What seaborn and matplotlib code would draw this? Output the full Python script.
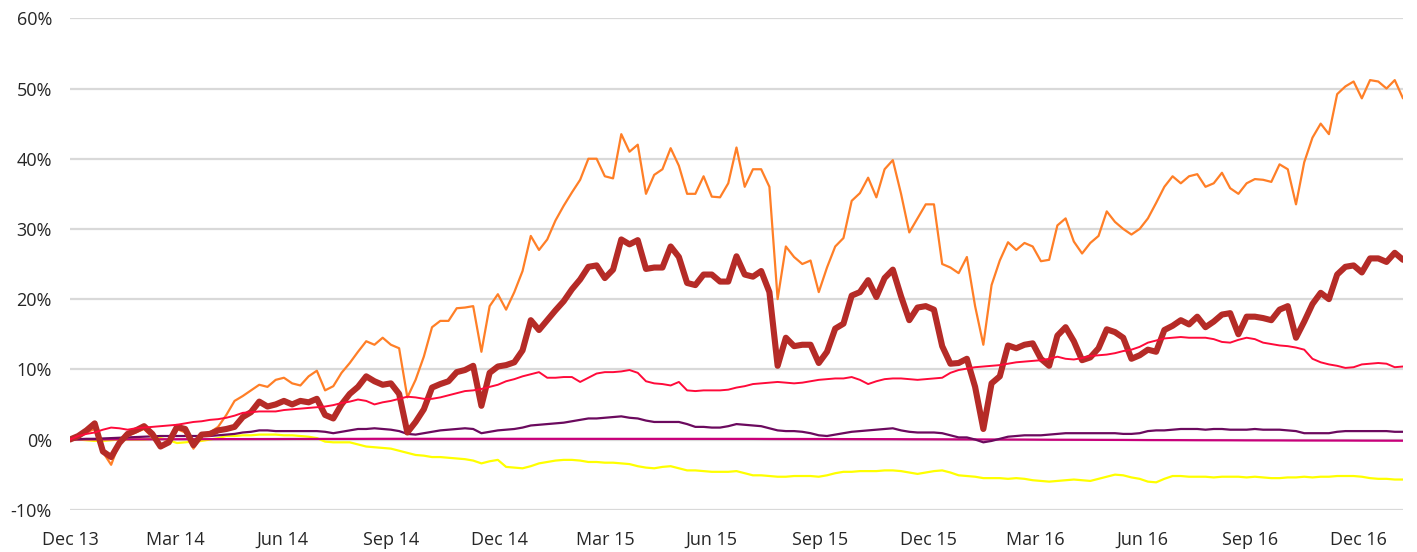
import pandas as pd
import matplotlib
matplotlib.use("Agg")
import matplotlib.pyplot as plt
from matplotlib.ticker import FuncFormatter
import seaborn as sns

# ---------------- data (weekly, cumulative return in %) ----------------
start_date = "2013-12-31"
n_weeks = 163

tick_dates = ["2013-12-31", "2014-03-31", "2014-06-30", "2014-09-30",
              "2014-12-31", "2015-03-31", "2015-06-30", "2015-09-30",
              "2015-12-31", "2016-03-31", "2016-06-30", "2016-09-30",
              "2016-12-31"]
tick_labels = ["Dec 13", "Mar 14", "Jun 14", "Sep 14", "Dec 14", "Mar 15",
               "Jun 15", "Sep 15", "Dec 15", "Mar 16", "Jun 16", "Sep 16",
               "Dec 16"]
y_ticks = [-10, 0, 10, 20, 30, 40, 50, 60]

orange = [
    0.0, 0.5, 1.0, 1.5, -1.8, -3.6, -0.5, 0.5, 1.0, 1.5,
    0.3, -1.0, -0.5, 1.5, 1.0, -1.3, 0.5, 1.0, 1.8, 3.5,
    5.5, 6.2, 7.0, 7.8, 7.5, 8.5, 8.8, 8.0, 7.7, 9.0,
    9.8, 7.0, 7.6, 9.5, 10.9, 12.5, 14.0, 13.5, 14.5, 13.5,
    13.0, 6.0, 8.5, 11.8, 16.0, 16.9, 16.9, 18.7, 18.8, 19.0,
    12.5, 19.0, 20.7, 18.5, 21.0, 24.0, 29.0, 27.0, 28.5, 31.2,
    33.3, 35.2, 37.0, 40.0, 40.0, 37.5, 37.2, 43.5, 41.0, 42.0,
    35.0, 37.7, 38.5, 41.5, 39.0, 35.0, 35.0, 37.5, 34.6, 34.5,
    36.5, 41.6, 36.0, 38.5, 38.5, 36.0, 20.0, 27.5, 26.0, 25.0,
    25.5, 21.0, 24.5, 27.5, 28.7, 34.0, 35.1, 37.3, 34.5, 38.5,
    39.8, 35.0, 29.5, 31.5, 33.5, 33.5, 25.0, 24.5, 23.7, 26.0,
    19.0, 13.5, 22.0, 25.5, 28.1, 27.0, 28.0, 27.5, 25.4, 25.6,
    30.5, 31.5, 28.2, 26.5, 28.0, 29.0, 32.5, 31.0, 30.0, 29.2,
    30.0, 31.5, 33.7, 36.0, 37.5, 36.5, 37.5, 37.8, 36.0, 36.5,
    38.0, 35.8, 35.0, 36.5, 37.1, 37.0, 36.7, 39.2, 38.5, 33.5,
    39.5, 43.0, 45.0, 43.5, 49.2, 50.3, 51.0, 48.6, 51.2, 51.0,
    50.0, 51.2, 48.6,
]

dark_red = [
    0.0, 0.5, 1.3, 2.3, -1.7, -2.5, -0.5, 0.8, 1.3, 1.9,
    0.8, -1.0, -0.4, 1.8, 1.5, -0.8, 0.7, 0.8, 1.3, 1.5,
    1.8, 3.2, 3.9, 5.4, 4.7, 5.0, 5.5, 5.0, 5.5, 5.3,
    5.8, 3.5, 3.0, 5.0, 6.5, 7.5, 9.0, 8.3, 7.8, 8.0,
    6.5, 1.0, 2.5, 4.3, 7.4, 7.9, 8.3, 9.6, 9.9, 10.5,
    4.8, 9.5, 10.4, 10.6, 11.0, 12.7, 17.0, 15.6, 17.0, 18.4,
    19.7, 21.4, 22.8, 24.6, 24.8, 23.0, 24.2, 28.5, 27.8, 28.4,
    24.3, 24.5, 24.5, 27.5, 26.0, 22.3, 22.0, 23.5, 23.5, 22.5,
    22.5, 26.1, 23.5, 23.2, 24.0, 21.0, 10.5, 14.5, 13.3, 13.5,
    13.5, 10.9, 12.5, 15.8, 16.5, 20.5, 21.0, 22.7, 20.3, 23.0,
    24.2, 20.4, 17.0, 18.8, 19.0, 18.5, 13.3, 10.8, 10.9, 11.5,
    7.5, 1.5, 8.0, 9.0, 13.4, 13.0, 13.5, 13.7, 11.5, 10.5,
    14.8, 16.0, 14.0, 11.3, 11.7, 13.0, 15.7, 15.3, 14.5, 11.5,
    12.0, 12.8, 12.5, 15.6, 16.2, 17.0, 16.4, 17.5, 16.0, 16.8,
    17.8, 18.0, 15.0, 17.5, 17.5, 17.3, 17.0, 18.5, 19.0, 14.5,
    16.8, 19.3, 20.9, 20.0, 23.5, 24.6, 24.8, 23.8, 25.8, 25.8,
    25.3, 26.6, 25.6,
]

red = [
    0.0, 0.5, 0.8, 1.0, 1.4, 1.7, 1.6, 1.4, 1.6, 1.7,
    1.8, 1.9, 2.0, 2.1, 2.3, 2.5, 2.6, 2.8, 2.9, 3.1,
    3.4, 3.8, 3.9, 4.0, 4.0, 4.0, 4.2, 4.3, 4.4, 4.5,
    4.6, 4.7, 4.9, 5.2, 5.4, 5.7, 5.5, 5.0, 5.3, 5.5,
    5.8, 6.1, 6.0, 5.8, 5.8, 6.0, 6.3, 6.6, 6.9, 7.0,
    7.2, 7.5, 7.8, 8.3, 8.6, 9.0, 9.3, 9.6, 8.8, 8.8,
    8.9, 8.9, 8.2, 8.8, 9.4, 9.6, 9.6, 9.7, 9.9, 9.5,
    8.3, 8.0, 7.9, 7.7, 8.2, 7.0, 6.9, 7.0, 7.0, 7.0,
    7.1, 7.4, 7.6, 7.9, 8.0, 8.1, 8.2, 8.1, 8.0, 8.1,
    8.3, 8.5, 8.6, 8.7, 8.7, 8.9, 8.5, 7.9, 8.3, 8.6,
    8.7, 8.7, 8.6, 8.5, 8.6, 8.7, 8.8, 9.5, 9.9, 10.1,
    10.3, 10.4, 10.5, 10.6, 10.8, 11.0, 11.1, 11.2, 11.3, 11.5,
    11.8, 11.5, 11.4, 11.6, 11.9, 12.0, 12.1, 12.3, 12.6, 12.8,
    13.2, 13.8, 14.1, 14.4, 14.5, 14.6, 14.5, 14.5, 14.5, 14.3,
    13.9, 13.8, 14.2, 14.5, 14.3, 13.8, 13.6, 13.4, 13.3, 13.1,
    12.8, 11.5, 11.0, 10.7, 10.5, 10.2, 10.3, 10.7, 10.8, 10.9,
    10.8, 10.3, 10.4,
]

purple = [
    0.0, 0.05, 0.1, 0.1, 0.15, 0.2, 0.25, 0.3, 0.35, 0.4,
    0.45, 0.5, 0.5, 0.5, 0.5, 0.5, 0.5, 0.5, 0.6, 0.7,
    0.8, 1.0, 1.1, 1.3, 1.3, 1.2, 1.2, 1.2, 1.2, 1.2,
    1.2, 1.1, 0.9, 1.1, 1.3, 1.5, 1.5, 1.6, 1.5, 1.4,
    1.2, 0.8, 0.7, 0.9, 1.1, 1.3, 1.4, 1.5, 1.6, 1.5,
    0.9, 1.1, 1.3, 1.4, 1.5, 1.7, 2.0, 2.1, 2.2, 2.3,
    2.4, 2.6, 2.8, 3.0, 3.0, 3.1, 3.2, 3.3, 3.1, 3.0,
    2.7, 2.5, 2.5, 2.5, 2.5, 2.2, 1.8, 1.8, 1.7, 1.7,
    1.9, 2.2, 2.1, 2.0, 1.9, 1.6, 1.3, 1.2, 1.2, 1.1,
    0.9, 0.6, 0.5, 0.7, 0.9, 1.1, 1.2, 1.3, 1.4, 1.5,
    1.6, 1.3, 1.1, 1.0, 1.0, 1.0, 0.9, 0.6, 0.3, 0.3,
    0.0, -0.4, -0.2, 0.1, 0.4, 0.5, 0.6, 0.6, 0.6, 0.7,
    0.8, 0.9, 0.9, 0.9, 0.9, 0.9, 0.9, 0.9, 0.8, 0.8,
    0.9, 1.2, 1.3, 1.3, 1.4, 1.5, 1.5, 1.5, 1.4, 1.5,
    1.5, 1.4, 1.4, 1.4, 1.5, 1.4, 1.4, 1.4, 1.3, 1.2,
    0.9, 0.9, 0.9, 0.9, 1.1, 1.2, 1.2, 1.2, 1.2, 1.2,
    1.2, 1.1, 1.1,
]

magenta = [
    0.0, 0.0, 0.01, 0.01, 0.01, 0.02, 0.02, 0.02, 0.03, 0.03,
    0.03, 0.04, 0.04, 0.04, 0.05, 0.05, 0.05, 0.05, 0.06, 0.06,
    0.06, 0.06, 0.07, 0.07, 0.07, 0.07, 0.08, 0.08, 0.08, 0.08,
    0.08, 0.09, 0.09, 0.09, 0.09, 0.09, 0.1, 0.1, 0.1, 0.1,
    0.1, 0.1, 0.1, 0.1, 0.1, 0.1, 0.1, 0.1, 0.1, 0.1,
    0.1, 0.1, 0.1, 0.1, 0.1, 0.1, 0.1, 0.1, 0.1, 0.1,
    0.1, 0.1, 0.1, 0.1, 0.1, 0.1, 0.1, 0.1, 0.1, 0.1,
    0.1, 0.1, 0.1, 0.1, 0.1, 0.1, 0.1, 0.1, 0.09, 0.09,
    0.09, 0.09, 0.09, 0.09, 0.08, 0.08, 0.08, 0.08, 0.08, 0.07,
    0.07, 0.07, 0.07, 0.06, 0.06, 0.06, 0.06, 0.05, 0.05, 0.05,
    0.05, 0.04, 0.04, 0.04, 0.03, 0.03, 0.03, 0.02, 0.02, 0.02,
    0.01, 0.01, 0.0, 0.0, 0.0, -0.01, -0.01, -0.02, -0.02, -0.03,
    -0.03, -0.03, -0.04, -0.04, -0.05, -0.05, -0.05, -0.06, -0.06, -0.07,
    -0.07, -0.08, -0.08, -0.08, -0.09, -0.09, -0.1, -0.1, -0.1, -0.11,
    -0.11, -0.11, -0.12, -0.12, -0.12, -0.13, -0.13, -0.13, -0.14, -0.14,
    -0.14, -0.14, -0.15, -0.15, -0.15, -0.15, -0.16, -0.16, -0.16, -0.16,
    -0.16, -0.17, -0.17,
]

yellow = [
    0.0, 0.0, -0.1, -0.2, -0.2, -0.1, 0.0, 0.0, 0.0, 0.0,
    0.1, 0.2, -0.1, -0.5, -0.4, -0.3, -0.2, 0.0, 0.2, 0.5,
    0.5, 0.6, 0.6, 0.7, 0.7, 0.7, 0.6, 0.6, 0.5, 0.4,
    0.2, -0.3, -0.4, -0.4, -0.4, -0.7, -1.0, -1.1, -1.2, -1.3,
    -1.6, -1.9, -2.2, -2.3, -2.5, -2.5, -2.6, -2.7, -2.8, -3.0,
    -3.4, -3.1, -2.9, -3.9, -4.0, -4.1, -3.8, -3.4, -3.2, -3.0,
    -2.9, -2.9, -3.0, -3.2, -3.2, -3.3, -3.3, -3.4, -3.5, -3.8,
    -4.0, -4.1, -3.9, -3.8, -4.1, -4.4, -4.4, -4.5, -4.6, -4.6,
    -4.6, -4.5, -4.8, -5.1, -5.1, -5.2, -5.3, -5.3, -5.2, -5.2,
    -5.2, -5.3, -5.1, -4.8, -4.6, -4.6, -4.5, -4.5, -4.5, -4.4,
    -4.4, -4.5, -4.7, -4.9, -4.7, -4.5, -4.4, -4.7, -5.1, -5.2,
    -5.3, -5.5, -5.5, -5.5, -5.6, -5.5, -5.6, -5.8, -5.9, -6.0,
    -5.9, -5.8, -5.7, -5.8, -5.9, -5.6, -5.3, -5.0, -5.1, -5.4,
    -5.6, -6.0, -6.1, -5.6, -5.2, -5.2, -5.3, -5.3, -5.3, -5.4,
    -5.3, -5.3, -5.3, -5.4, -5.3, -5.4, -5.5, -5.5, -5.4, -5.4,
    -5.3, -5.4, -5.3, -5.3, -5.2, -5.2, -5.2, -5.3, -5.5, -5.6,
    -5.6, -5.7, -5.7,
]

# ---------------- styling ----------------
sns.set_theme(style="white")
plt.rcParams["font.family"] = ["Open Sans", "DejaVu Sans"]

dates = pd.date_range(start_date, periods=n_weeks, freq="7D")

series = [  # (values, colour, width) in drawing order
    (yellow, "#FFFF00", 1.6),
    (magenta, "#C8007A", 1.6),
    (purple, "#6B0A5E", 1.6),
    (orange, "#FF7F27", 1.6),
    (dark_red, "#B52B27", 4.4),
    (red, "#FF0A3A", 1.4),
]

fig = plt.figure(figsize=(14.17, 5.52), dpi=100)
ax = fig.add_axes([0.0494, 0.0766, 0.9407, 0.8902])

for vals, col, lw in series:
    df = pd.DataFrame({"date": dates, "value": vals})
    sns.lineplot(data=df, x="date", y="value", ax=ax, color=col,
                 linewidth=lw, legend=False, solid_joinstyle="round",
                 solid_capstyle="round")

ax.set_xlim(dates[0], dates[-1])
ax.set_ylim(-10, 60)
ax.set_yticks(y_ticks)
ax.yaxis.set_major_formatter(FuncFormatter(lambda v, p: f"{int(round(v))}%"))
ax.set_xticks(pd.to_datetime(tick_dates))
ax.set_xticklabels(tick_labels)
ax.set_xlabel("")
ax.set_ylabel("")

ax.yaxis.grid(True, color="#D9D9D9", linewidth=1.6)
ax.xaxis.grid(False)
ax.set_axisbelow(True)
for s in ax.spines.values():
    s.set_visible(False)
ax.tick_params(axis="both", length=0, labelsize=13, colors="#262626")
ax.tick_params(axis="y", pad=13)
ax.tick_params(axis="x", pad=15)

fig.savefig("out.png", dpi=100)
